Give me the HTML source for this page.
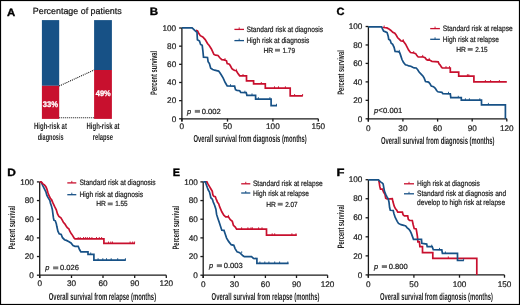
<!DOCTYPE html>
<html><head><meta charset="utf-8"><style>
html,body{margin:0;padding:0;background:#fff;}
svg{display:block;font-family:"Liberation Sans", sans-serif;will-change:transform;text-rendering:geometricPrecision;} text{stroke:#222;stroke-width:0.22px;paint-order:stroke;} text[fill="#fff"]{stroke:#fff;} text[font-weight="bold"]{stroke:none;} text[fill="#fff"][font-weight="bold"]{stroke:#fff;stroke-width:0.3px;}
</style></head><body>
<svg width="520" height="305" viewBox="0 0 520 305">
<rect x="0" y="0" width="520" height="305" fill="#fff"/>
<text x="7.1" y="15.5" font-size="10.6" font-weight="bold" fill="#000" stroke="#000" stroke-width="0.35" textLength="8.22" lengthAdjust="spacingAndGlyphs" style="stroke:#000;stroke-width:0.35px">A</text>
<text x="32.8" y="13.8" font-size="9.0" text-anchor="start" font-weight="normal" font-style="normal" fill="#111" textLength="88.9" lengthAdjust="spacingAndGlyphs">Percentage of patients</text>
<rect x="41.9" y="20.1" width="17.3" height="65.7" fill="#175186"/>
<rect x="41.9" y="85.8" width="17.3" height="33.1" fill="#c8102e"/>
<rect x="94.1" y="20.1" width="17.8" height="49.9" fill="#175186"/>
<rect x="94.1" y="70.0" width="17.8" height="48.9" fill="#c8102e"/>
<line x1="59.2" y1="86.0" x2="94.2" y2="70.0" stroke="#111" stroke-width="1.1" stroke-dasharray="1,1"/>
<line x1="59.2" y1="117.7" x2="94.2" y2="117.7" stroke="#111" stroke-width="1.1" stroke-dasharray="1,1"/>
<text x="42.8" y="107.0" font-size="8.2" text-anchor="start" font-weight="bold" font-style="normal" fill="#fff" textLength="15.3" lengthAdjust="spacingAndGlyphs">33%</text>
<text x="95.8" y="96.1" font-size="8.0" text-anchor="start" font-weight="bold" font-style="normal" fill="#fff" textLength="14.9" lengthAdjust="spacingAndGlyphs">49%</text>
<text x="34.0" y="128.8" font-size="9.0" text-anchor="start" font-weight="bold" font-style="normal" fill="#222" textLength="32.9" lengthAdjust="spacingAndGlyphs">High-risk at</text>
<text x="37.7" y="139.6" font-size="9.0" text-anchor="start" font-weight="bold" font-style="normal" fill="#222" textLength="25.8" lengthAdjust="spacingAndGlyphs">diagnosis</text>
<text x="86.5" y="128.8" font-size="9.0" text-anchor="start" font-weight="bold" font-style="normal" fill="#222" textLength="33.1" lengthAdjust="spacingAndGlyphs">High-risk at</text>
<text x="92.7" y="139.6" font-size="9.0" text-anchor="start" font-weight="bold" font-style="normal" fill="#222" textLength="20.4" lengthAdjust="spacingAndGlyphs">relapse</text>
<text x="149.7" y="15.2" font-size="10.6" font-weight="bold" fill="#000" stroke="#000" stroke-width="0.35" textLength="8.33" lengthAdjust="spacingAndGlyphs" style="stroke:#000;stroke-width:0.35px">B</text>
<line x1="181.9" y1="28.0" x2="181.9" y2="121.6" stroke="#1a1a1a" stroke-width="1.3"/>
<line x1="179.1" y1="118.8" x2="181.9" y2="118.8" stroke="#1a1a1a" stroke-width="1.3"/>
<text x="176.2" y="121.5" font-size="8.2" text-anchor="end" font-weight="normal" font-style="normal" fill="#222">0</text>
<line x1="179.1" y1="100.64" x2="181.9" y2="100.64" stroke="#1a1a1a" stroke-width="1.3"/>
<text x="176.2" y="103.34" font-size="8.2" text-anchor="end" font-weight="normal" font-style="normal" fill="#222">20</text>
<line x1="179.1" y1="82.47999999999999" x2="181.9" y2="82.47999999999999" stroke="#1a1a1a" stroke-width="1.3"/>
<text x="176.2" y="85.18" font-size="8.2" text-anchor="end" font-weight="normal" font-style="normal" fill="#222">40</text>
<line x1="179.1" y1="64.32" x2="181.9" y2="64.32" stroke="#1a1a1a" stroke-width="1.3"/>
<text x="176.2" y="67.02" font-size="8.2" text-anchor="end" font-weight="normal" font-style="normal" fill="#222">60</text>
<line x1="179.1" y1="46.16" x2="181.9" y2="46.16" stroke="#1a1a1a" stroke-width="1.3"/>
<text x="176.2" y="48.86" font-size="8.2" text-anchor="end" font-weight="normal" font-style="normal" fill="#222">80</text>
<line x1="179.1" y1="28.0" x2="181.9" y2="28.0" stroke="#1a1a1a" stroke-width="1.3"/>
<text x="176.2" y="30.7" font-size="8.2" text-anchor="end" font-weight="normal" font-style="normal" fill="#222">100</text>
<line x1="181.9" y1="118.8" x2="318.3" y2="118.8" stroke="#1a1a1a" stroke-width="1.3"/>
<line x1="181.9" y1="118.8" x2="181.9" y2="121.6" stroke="#1a1a1a" stroke-width="1.3"/>
<text x="181.9" y="129.1" font-size="8.2" text-anchor="middle" font-weight="normal" font-style="normal" fill="#222">0</text>
<line x1="227.5" y1="118.8" x2="227.5" y2="121.6" stroke="#1a1a1a" stroke-width="1.3"/>
<text x="227.5" y="129.1" font-size="8.2" text-anchor="middle" font-weight="normal" font-style="normal" fill="#222">50</text>
<line x1="272.9" y1="118.8" x2="272.9" y2="121.6" stroke="#1a1a1a" stroke-width="1.3"/>
<text x="272.9" y="129.1" font-size="8.2" text-anchor="middle" font-weight="normal" font-style="normal" fill="#222">100</text>
<line x1="318.3" y1="118.8" x2="318.3" y2="121.6" stroke="#1a1a1a" stroke-width="1.3"/>
<text x="318.3" y="129.1" font-size="8.2" text-anchor="middle" font-weight="normal" font-style="normal" fill="#222">150</text>
<text transform="translate(156.8,72.9) rotate(-90)" x="0" y="0" font-size="9.4" font-weight="bold" text-anchor="middle" fill="#222" textLength="44.0" lengthAdjust="spacingAndGlyphs">Percent survival</text>
<text x="193.6" y="141.8" font-size="10.2" text-anchor="start" font-weight="bold" font-style="normal" fill="#222" textLength="113.2" lengthAdjust="spacingAndGlyphs">Overall survival from diagnosis (months)</text>
<text x="187.0" y="113.6" font-size="7.4" font-style="italic" fill="#222">p</text>
<rect x="194.8" y="109.9" width="5.2" height="2.9" fill="#777"/>
<text x="201.7" y="113.6" font-size="7.4" fill="#222" textLength="19.0" lengthAdjust="spacingAndGlyphs">0.002</text>
<line x1="234.4" y1="29.4" x2="244.0" y2="29.4" stroke="#c8102e" stroke-width="1.3"/>
<line x1="239.2" y1="29.4" x2="239.2" y2="27.4" stroke="#c8102e" stroke-width="0.9"/>
<text x="246.6" y="32.0" font-size="7.8" text-anchor="start" font-weight="normal" font-style="normal" fill="#222" textLength="76.4" lengthAdjust="spacingAndGlyphs">Standard risk at diagnosis</text>
<line x1="234.4" y1="40.6" x2="244.0" y2="40.6" stroke="#175186" stroke-width="1.3"/>
<line x1="239.2" y1="40.6" x2="239.2" y2="38.6" stroke="#175186" stroke-width="0.9"/>
<text x="246.6" y="42.9" font-size="7.8" text-anchor="start" font-weight="normal" font-style="normal" fill="#222" textLength="62.7" lengthAdjust="spacingAndGlyphs">High risk at diagnosis</text>
<text x="263.5" y="52.7" font-size="7.3" fill="#222" textLength="9.7" lengthAdjust="spacingAndGlyphs">HR</text>
<rect x="275.0" y="48.8" width="5.0" height="2.8" fill="#777"/>
<text x="282.5" y="52.7" font-size="7.3" fill="#222" textLength="12.5" lengthAdjust="spacingAndGlyphs">1.79</text>
<path d="M195.8,30.2 L197.5,30.9 L198.7,33.2 L200.3,35.7 L202.8,36.9 L205.2,39.6 L207.5,43.5 L209.2,45.5 L211.4,49.0 L213.9,54.4 L215.6,55.2 L218.0,55.5 L219.8,57.8 L221.8,59.7 L224.0,59.9 L226.5,60.8 L227.2,63.6 L229.4,64.2 L230.4,65.8 L231.9,68.6 L233.4,69.7 L234.8,70.5 L236.3,70.7 L237.8,73.2 L239.7,75.8 L246.5,75.9 L246.5,80.8 L253.6,80.8 L253.6,83.9 L265.3,83.9 L265.3,88.2 L290.2,88.2 L290.2,95.9 L302.8,95.9" fill="none" stroke="#c8102e" stroke-width="1.7" stroke-linejoin="miter"/>
<path d="M181.9,27.9 L192.1,27.9 L195.0,30.7 L197.0,32.4 L197.4,39.8 L199.5,41.0 L200.6,44.4 L202.2,45.3 L202.9,51.2 L203.5,57.2 L207.5,57.5 L208.1,61.7 L209.4,63.6 L210.7,68.2 L212.7,69.5 L214.7,70.2 L216.6,70.6 L218.6,71.1 L219.9,72.8 L221.2,74.8 L223.2,78.1 L225.2,82.5 L227.2,86.0 L234.6,86.2 L235.5,89.7 L237.0,90.3 L239.7,90.7 L240.7,92.4 L246.2,92.6 L246.9,95.3 L255.6,95.3 L255.6,99.1 L271.1,99.1 L271.1,105.7 L277.0,105.7" fill="none" stroke="#175186" stroke-width="1.7" stroke-linejoin="miter"/>
<line x1="225" y1="60" x2="225" y2="58.1" stroke="#c8102e" stroke-width="0.9"/>
<line x1="236.3" y1="70.7" x2="236.3" y2="68.8" stroke="#c8102e" stroke-width="0.9"/>
<line x1="243" y1="75.9" x2="243" y2="74.0" stroke="#c8102e" stroke-width="0.9"/>
<line x1="261.3" y1="83.9" x2="261.3" y2="82.0" stroke="#c8102e" stroke-width="0.9"/>
<line x1="274.5" y1="88.2" x2="274.5" y2="86.3" stroke="#c8102e" stroke-width="0.9"/>
<line x1="278.5" y1="88.2" x2="278.5" y2="86.3" stroke="#c8102e" stroke-width="0.9"/>
<line x1="285.4" y1="88.2" x2="285.4" y2="86.3" stroke="#c8102e" stroke-width="0.9"/>
<line x1="294.6" y1="95.9" x2="294.6" y2="94.0" stroke="#c8102e" stroke-width="0.9"/>
<line x1="302.6" y1="95.9" x2="302.6" y2="94.0" stroke="#c8102e" stroke-width="0.9"/>
<line x1="230.5" y1="86.1" x2="230.5" y2="84.19999999999999" stroke="#175186" stroke-width="0.9"/>
<line x1="244.9" y1="92.6" x2="244.9" y2="90.69999999999999" stroke="#175186" stroke-width="0.9"/>
<line x1="252" y1="95.3" x2="252" y2="93.39999999999999" stroke="#175186" stroke-width="0.9"/>
<line x1="258.4" y1="99.1" x2="258.4" y2="97.19999999999999" stroke="#175186" stroke-width="0.9"/>
<line x1="269.9" y1="99.1" x2="269.9" y2="97.19999999999999" stroke="#175186" stroke-width="0.9"/>
<line x1="276.5" y1="105.7" x2="276.5" y2="103.8" stroke="#175186" stroke-width="0.9"/>
<text x="336.6" y="15.4" font-size="10.6" font-weight="bold" fill="#000" stroke="#000" stroke-width="0.35" textLength="8.01" lengthAdjust="spacingAndGlyphs" style="stroke:#000;stroke-width:0.35px">C</text>
<line x1="368.4" y1="26.5" x2="368.4" y2="121.6" stroke="#1a1a1a" stroke-width="1.3"/>
<line x1="365.59999999999997" y1="118.8" x2="368.4" y2="118.8" stroke="#1a1a1a" stroke-width="1.3"/>
<text x="362.4" y="121.5" font-size="8.2" text-anchor="end" font-weight="normal" font-style="normal" fill="#222">0</text>
<line x1="365.59999999999997" y1="100.34" x2="368.4" y2="100.34" stroke="#1a1a1a" stroke-width="1.3"/>
<text x="362.4" y="103.04" font-size="8.2" text-anchor="end" font-weight="normal" font-style="normal" fill="#222">20</text>
<line x1="365.59999999999997" y1="81.88" x2="368.4" y2="81.88" stroke="#1a1a1a" stroke-width="1.3"/>
<text x="362.4" y="84.58" font-size="8.2" text-anchor="end" font-weight="normal" font-style="normal" fill="#222">40</text>
<line x1="365.59999999999997" y1="63.42" x2="368.4" y2="63.42" stroke="#1a1a1a" stroke-width="1.3"/>
<text x="362.4" y="66.12" font-size="8.2" text-anchor="end" font-weight="normal" font-style="normal" fill="#222">60</text>
<line x1="365.59999999999997" y1="44.959999999999994" x2="368.4" y2="44.959999999999994" stroke="#1a1a1a" stroke-width="1.3"/>
<text x="362.4" y="47.66" font-size="8.2" text-anchor="end" font-weight="normal" font-style="normal" fill="#222">80</text>
<line x1="365.59999999999997" y1="26.5" x2="368.4" y2="26.5" stroke="#1a1a1a" stroke-width="1.3"/>
<text x="362.4" y="29.2" font-size="8.2" text-anchor="end" font-weight="normal" font-style="normal" fill="#222">100</text>
<line x1="368.4" y1="118.8" x2="507.0" y2="118.8" stroke="#1a1a1a" stroke-width="1.3"/>
<line x1="368.3" y1="118.8" x2="368.3" y2="121.6" stroke="#1a1a1a" stroke-width="1.3"/>
<text x="368.3" y="130.8" font-size="8.2" text-anchor="middle" font-weight="normal" font-style="normal" fill="#222">0</text>
<line x1="402.9" y1="118.8" x2="402.9" y2="121.6" stroke="#1a1a1a" stroke-width="1.3"/>
<text x="402.9" y="130.8" font-size="8.2" text-anchor="middle" font-weight="normal" font-style="normal" fill="#222">30</text>
<line x1="437.6" y1="118.8" x2="437.6" y2="121.6" stroke="#1a1a1a" stroke-width="1.3"/>
<text x="437.6" y="130.8" font-size="8.2" text-anchor="middle" font-weight="normal" font-style="normal" fill="#222">60</text>
<line x1="472.2" y1="118.8" x2="472.2" y2="121.6" stroke="#1a1a1a" stroke-width="1.3"/>
<text x="472.2" y="130.8" font-size="8.2" text-anchor="middle" font-weight="normal" font-style="normal" fill="#222">90</text>
<line x1="506.8" y1="118.8" x2="506.8" y2="121.6" stroke="#1a1a1a" stroke-width="1.3"/>
<text x="506.8" y="130.8" font-size="8.2" text-anchor="middle" font-weight="normal" font-style="normal" fill="#222">120</text>
<text transform="translate(343.7,72.5) rotate(-90)" x="0" y="0" font-size="9.4" font-weight="bold" text-anchor="middle" fill="#222" textLength="44.6" lengthAdjust="spacingAndGlyphs">Percent survival</text>
<text x="381.0" y="143.5" font-size="10.2" text-anchor="start" font-weight="bold" font-style="normal" fill="#222" textLength="113.5" lengthAdjust="spacingAndGlyphs">Overall survival from diagnosis (months)</text>
<text x="374.0" y="112.6" font-size="7.4" font-style="italic" fill="#222">p</text>
<text x="378.3" y="112.5" font-size="8.6" fill="#222" textLength="4.6" lengthAdjust="spacingAndGlyphs">&lt;</text>
<text x="383.0" y="112.6" font-size="7.4" fill="#222" textLength="19.2" lengthAdjust="spacingAndGlyphs">0.001</text>
<line x1="430.2" y1="28.6" x2="439.9" y2="28.6" stroke="#c8102e" stroke-width="1.3"/>
<line x1="435.04999999999995" y1="28.6" x2="435.04999999999995" y2="26.6" stroke="#c8102e" stroke-width="0.9"/>
<text x="442.8" y="31.1" font-size="7.8" text-anchor="start" font-weight="normal" font-style="normal" fill="#222" textLength="69.9" lengthAdjust="spacingAndGlyphs">Standard risk at relapse</text>
<line x1="430.2" y1="39.3" x2="439.9" y2="39.3" stroke="#175186" stroke-width="1.3"/>
<line x1="435.04999999999995" y1="39.3" x2="435.04999999999995" y2="37.3" stroke="#175186" stroke-width="0.9"/>
<text x="442.8" y="41.8" font-size="7.8" text-anchor="start" font-weight="normal" font-style="normal" fill="#222" textLength="56.0" lengthAdjust="spacingAndGlyphs">High risk at relapse</text>
<text x="456.2" y="51.9" font-size="7.3" fill="#222" textLength="9.7" lengthAdjust="spacingAndGlyphs">HR</text>
<rect x="467.7" y="48.0" width="5.0" height="2.8" fill="#777"/>
<text x="475.2" y="51.9" font-size="7.3" fill="#222" textLength="12.5" lengthAdjust="spacingAndGlyphs">2.15</text>
<path d="M382.6,27.2 L383.6,27.5 L386.9,27.9 L388.9,28.9 L390.9,30.5 L392.8,32.4 L394.8,33.3 L396.3,35.3 L397.7,37.8 L399.2,39.2 L400.7,40.7 L402.2,41.2 L403.2,41.0 L404.1,42.2 L405.6,44.2 L407.1,47.1 L408.6,50.1 L410.5,52.5 L413.7,53.0 L415.7,53.6 L416.9,55.6 L418.2,57.0 L420.6,57.0 L422.7,56.8 L425.1,57.7 L426.4,59.5 L427.6,60.1 L429.2,59.8 L430.9,60.7 L432.0,61.4 L438.2,61.8 L439.0,63.9 L440.2,65.1 L441.5,67.2 L442.3,68.0 L450.3,68.0 L450.3,72.2 L458.7,72.2 L458.7,76.1 L473.9,76.1 L473.9,81.9 L506.8,81.9" fill="none" stroke="#c8102e" stroke-width="1.7" stroke-linejoin="miter"/>
<path d="M368.4,26.8 L381.6,26.8 L382.6,29.1 L383.6,31.1 L385.6,31.9 L387.1,32.6 L388.2,36.2 L388.7,39.2 L390.2,40.3 L391.2,43.3 L392.7,44.3 L394.1,47.4 L395.1,51.4 L397.8,51.6 L399.5,52.2 L400.5,54.9 L401.9,59.3 L403.4,62.3 L405.4,64.7 L407.3,65.2 L408.8,65.9 L410.8,66.2 L412.7,67.2 L414.2,67.9 L416.2,68.0 L417.7,69.7 L419.1,72.1 L421.1,74.1 L423.1,76.3 L424.2,78.1 L425.5,81.6 L428.6,82.1 L430.0,83.8 L431.3,86.1 L433.5,86.7 L435.3,88.3 L436.6,90.5 L437.9,91.8 L441.9,92.3 L442.8,93.6 L450.3,93.8 L450.8,97.7 L461.3,97.7 L461.3,100.2 L481.5,100.2 L481.5,104.8 L505.4,104.8 L505.4,118.8" fill="none" stroke="#175186" stroke-width="1.7" stroke-linejoin="miter"/>
<line x1="384.2" y1="27.4" x2="384.2" y2="25.5" stroke="#c8102e" stroke-width="0.9"/>
<line x1="403.2" y1="41.0" x2="403.2" y2="39.1" stroke="#c8102e" stroke-width="0.9"/>
<line x1="413.7" y1="53.0" x2="413.7" y2="51.1" stroke="#c8102e" stroke-width="0.9"/>
<line x1="422.7" y1="56.8" x2="422.7" y2="54.9" stroke="#c8102e" stroke-width="0.9"/>
<line x1="429.2" y1="59.8" x2="429.2" y2="57.9" stroke="#c8102e" stroke-width="0.9"/>
<line x1="446" y1="68" x2="446" y2="66.1" stroke="#c8102e" stroke-width="0.9"/>
<line x1="449.5" y1="68" x2="449.5" y2="66.1" stroke="#c8102e" stroke-width="0.9"/>
<line x1="467.4" y1="76.1" x2="467.4" y2="74.19999999999999" stroke="#c8102e" stroke-width="0.9"/>
<line x1="468.8" y1="76.1" x2="468.8" y2="74.19999999999999" stroke="#c8102e" stroke-width="0.9"/>
<line x1="485.4" y1="81.9" x2="485.4" y2="80.0" stroke="#c8102e" stroke-width="0.9"/>
<line x1="490.6" y1="81.9" x2="490.6" y2="80.0" stroke="#c8102e" stroke-width="0.9"/>
<line x1="499.4" y1="81.9" x2="499.4" y2="80.0" stroke="#c8102e" stroke-width="0.9"/>
<line x1="399.3" y1="51.8" x2="399.3" y2="49.9" stroke="#175186" stroke-width="0.9"/>
<line x1="448.5" y1="93.7" x2="448.5" y2="91.8" stroke="#175186" stroke-width="0.9"/>
<line x1="458.3" y1="97.7" x2="458.3" y2="95.8" stroke="#175186" stroke-width="0.9"/>
<line x1="465.4" y1="100.2" x2="465.4" y2="98.3" stroke="#175186" stroke-width="0.9"/>
<line x1="469.4" y1="100.2" x2="469.4" y2="98.3" stroke="#175186" stroke-width="0.9"/>
<line x1="479.8" y1="100.2" x2="479.8" y2="98.3" stroke="#175186" stroke-width="0.9"/>
<line x1="488.4" y1="104.8" x2="488.4" y2="102.89999999999999" stroke="#175186" stroke-width="0.9"/>
<text x="7.3" y="175.8" font-size="10.6" font-weight="bold" fill="#000" stroke="#000" stroke-width="0.35" textLength="8.63" lengthAdjust="spacingAndGlyphs" style="stroke:#000;stroke-width:0.35px">D</text>
<line x1="39.7" y1="181.9" x2="39.7" y2="278.0" stroke="#1a1a1a" stroke-width="1.3"/>
<line x1="36.900000000000006" y1="275.2" x2="39.7" y2="275.2" stroke="#1a1a1a" stroke-width="1.3"/>
<text x="33.8" y="277.9" font-size="8.2" text-anchor="end" font-weight="normal" font-style="normal" fill="#222">0</text>
<line x1="36.900000000000006" y1="256.53999999999996" x2="39.7" y2="256.53999999999996" stroke="#1a1a1a" stroke-width="1.3"/>
<text x="33.8" y="259.24" font-size="8.2" text-anchor="end" font-weight="normal" font-style="normal" fill="#222">20</text>
<line x1="36.900000000000006" y1="237.88" x2="39.7" y2="237.88" stroke="#1a1a1a" stroke-width="1.3"/>
<text x="33.8" y="240.58" font-size="8.2" text-anchor="end" font-weight="normal" font-style="normal" fill="#222">40</text>
<line x1="36.900000000000006" y1="219.22" x2="39.7" y2="219.22" stroke="#1a1a1a" stroke-width="1.3"/>
<text x="33.8" y="221.92" font-size="8.2" text-anchor="end" font-weight="normal" font-style="normal" fill="#222">60</text>
<line x1="36.900000000000006" y1="200.56" x2="39.7" y2="200.56" stroke="#1a1a1a" stroke-width="1.3"/>
<text x="33.8" y="203.26" font-size="8.2" text-anchor="end" font-weight="normal" font-style="normal" fill="#222">80</text>
<line x1="36.900000000000006" y1="181.9" x2="39.7" y2="181.9" stroke="#1a1a1a" stroke-width="1.3"/>
<text x="33.8" y="184.6" font-size="8.2" text-anchor="end" font-weight="normal" font-style="normal" fill="#222">100</text>
<line x1="39.7" y1="275.2" x2="166.3" y2="275.2" stroke="#1a1a1a" stroke-width="1.3"/>
<line x1="39.7" y1="275.2" x2="39.7" y2="278.0" stroke="#1a1a1a" stroke-width="1.3"/>
<text x="39.7" y="285.5" font-size="8.2" text-anchor="middle" font-weight="normal" font-style="normal" fill="#222">0</text>
<line x1="71.5" y1="275.2" x2="71.5" y2="278.0" stroke="#1a1a1a" stroke-width="1.3"/>
<text x="71.5" y="285.5" font-size="8.2" text-anchor="middle" font-weight="normal" font-style="normal" fill="#222">30</text>
<line x1="103.0" y1="275.2" x2="103.0" y2="278.0" stroke="#1a1a1a" stroke-width="1.3"/>
<text x="103.0" y="285.5" font-size="8.2" text-anchor="middle" font-weight="normal" font-style="normal" fill="#222">60</text>
<line x1="134.7" y1="275.2" x2="134.7" y2="278.0" stroke="#1a1a1a" stroke-width="1.3"/>
<text x="134.7" y="285.5" font-size="8.2" text-anchor="middle" font-weight="normal" font-style="normal" fill="#222">90</text>
<line x1="166.3" y1="275.2" x2="166.3" y2="278.0" stroke="#1a1a1a" stroke-width="1.3"/>
<text x="166.3" y="285.5" font-size="8.2" text-anchor="middle" font-weight="normal" font-style="normal" fill="#222">120</text>
<text transform="translate(14.9,227.7) rotate(-90)" x="0" y="0" font-size="9.4" font-weight="bold" text-anchor="middle" fill="#222" textLength="43.6" lengthAdjust="spacingAndGlyphs">Percent survival</text>
<text x="48.8" y="300.4" font-size="10.2" text-anchor="start" font-weight="bold" font-style="normal" fill="#222" textLength="107.3" lengthAdjust="spacingAndGlyphs">Overall survival from relapse (months)</text>
<text x="45.3" y="270.1" font-size="7.4" font-style="italic" fill="#222">p</text>
<rect x="53.099999999999994" y="266.4" width="5.2" height="2.9" fill="#777"/>
<text x="60.0" y="270.1" font-size="7.4" fill="#222" textLength="19.0" lengthAdjust="spacingAndGlyphs">0.026</text>
<line x1="67.3" y1="182.9" x2="76.3" y2="182.9" stroke="#c8102e" stroke-width="1.3"/>
<line x1="71.8" y1="182.9" x2="71.8" y2="180.9" stroke="#c8102e" stroke-width="0.9"/>
<text x="79.4" y="185.2" font-size="7.8" text-anchor="start" font-weight="normal" font-style="normal" fill="#222" textLength="76.2" lengthAdjust="spacingAndGlyphs">Standard risk at diagnosis</text>
<line x1="67.3" y1="194.7" x2="76.3" y2="194.7" stroke="#175186" stroke-width="1.3"/>
<line x1="71.8" y1="194.7" x2="71.8" y2="192.7" stroke="#175186" stroke-width="0.9"/>
<text x="79.4" y="197.2" font-size="7.8" text-anchor="start" font-weight="normal" font-style="normal" fill="#222" textLength="63.7" lengthAdjust="spacingAndGlyphs">High risk at diagnosis</text>
<text x="96.2" y="206.4" font-size="7.3" fill="#222" textLength="9.7" lengthAdjust="spacingAndGlyphs">HR</text>
<rect x="107.7" y="202.5" width="5.0" height="2.8" fill="#777"/>
<text x="115.2" y="206.4" font-size="7.3" fill="#222" textLength="12.5" lengthAdjust="spacingAndGlyphs">1.55</text>
<path d="M40.6,182.0 L41.2,182.2 L42.9,185.9 L44.4,188.8 L45.9,191.8 L46.8,195.2 L47.8,197.2 L49.3,199.6 L49.9,200.6 L50.4,203.0 L51.4,205.9 L52.4,209.8 L52.9,213.8 L53.4,217.7 L53.9,220.2 L55.3,220.8 L56.3,223.6 L56.9,226.8 L57.9,231.2 L59.2,233.8 L61.2,234.5 L62.5,237.7 L64.5,239.7 L66.4,240.4 L69.0,241.7 L71.0,243.0 L73.0,245.6 L75.0,246.3 L78.2,246.3 L79.5,249.5 L80.9,251.9 L88.0,251.9 L88.0,254.4 L93.9,254.4 L93.9,260.1 L125.8,260.1" fill="none" stroke="#175186" stroke-width="1.7" stroke-linejoin="miter"/>
<path d="M39.7,181.9 L40.5,181.9 L41.4,182.1 L42.9,183.9 L44.4,184.9 L45.9,186.8 L46.8,188.8 L47.8,192.3 L48.8,195.2 L50.3,198.2 L51.6,199.8 L52.9,202.9 L54.8,206.9 L56.3,209.8 L57.5,213.9 L58.9,216.4 L60.9,217.9 L62.4,220.3 L63.4,222.3 L64.8,223.8 L66.3,226.2 L67.3,227.7 L68.8,228.7 L69.8,231.2 L71.2,233.6 L72.7,235.6 L74.2,238.2 L75.0,238.9 L103.9,238.9 L103.9,243.4 L135.0,243.4" fill="none" stroke="#c8102e" stroke-width="1.7" stroke-linejoin="miter"/>
<line x1="78.2" y1="238.9" x2="78.2" y2="237.0" stroke="#c8102e" stroke-width="0.9"/>
<line x1="80.2" y1="238.9" x2="80.2" y2="237.0" stroke="#c8102e" stroke-width="0.9"/>
<line x1="83.5" y1="238.9" x2="83.5" y2="237.0" stroke="#c8102e" stroke-width="0.9"/>
<line x1="85.4" y1="238.9" x2="85.4" y2="237.0" stroke="#c8102e" stroke-width="0.9"/>
<line x1="87.3" y1="238.9" x2="87.3" y2="237.0" stroke="#c8102e" stroke-width="0.9"/>
<line x1="89.6" y1="238.9" x2="89.6" y2="237.0" stroke="#c8102e" stroke-width="0.9"/>
<line x1="91.9" y1="238.9" x2="91.9" y2="237.0" stroke="#c8102e" stroke-width="0.9"/>
<line x1="96.5" y1="238.9" x2="96.5" y2="237.0" stroke="#c8102e" stroke-width="0.9"/>
<line x1="99.3" y1="238.9" x2="99.3" y2="237.0" stroke="#c8102e" stroke-width="0.9"/>
<line x1="101.6" y1="238.9" x2="101.6" y2="237.0" stroke="#c8102e" stroke-width="0.9"/>
<line x1="108.5" y1="243.4" x2="108.5" y2="241.5" stroke="#c8102e" stroke-width="0.9"/>
<line x1="110.8" y1="243.4" x2="110.8" y2="241.5" stroke="#c8102e" stroke-width="0.9"/>
<line x1="112.5" y1="243.4" x2="112.5" y2="241.5" stroke="#c8102e" stroke-width="0.9"/>
<line x1="130.1" y1="243.4" x2="130.1" y2="241.5" stroke="#c8102e" stroke-width="0.9"/>
<line x1="132.7" y1="243.4" x2="132.7" y2="241.5" stroke="#c8102e" stroke-width="0.9"/>
<line x1="134.6" y1="243.4" x2="134.6" y2="241.5" stroke="#c8102e" stroke-width="0.9"/>
<line x1="90.7" y1="254.4" x2="90.7" y2="252.5" stroke="#175186" stroke-width="0.9"/>
<line x1="98.1" y1="260.1" x2="98.1" y2="258.20000000000005" stroke="#175186" stroke-width="0.9"/>
<line x1="102.8" y1="260.1" x2="102.8" y2="258.20000000000005" stroke="#175186" stroke-width="0.9"/>
<line x1="106.5" y1="260.1" x2="106.5" y2="258.20000000000005" stroke="#175186" stroke-width="0.9"/>
<line x1="111.2" y1="260.1" x2="111.2" y2="258.20000000000005" stroke="#175186" stroke-width="0.9"/>
<line x1="117.7" y1="260.1" x2="117.7" y2="258.20000000000005" stroke="#175186" stroke-width="0.9"/>
<line x1="125.4" y1="260.1" x2="125.4" y2="258.20000000000005" stroke="#175186" stroke-width="0.9"/>
<text x="172.75" y="175.8" font-size="10.6" font-weight="bold" fill="#000" stroke="#000" stroke-width="0.35" textLength="7.3" lengthAdjust="spacingAndGlyphs" style="stroke:#000;stroke-width:0.35px">E</text>
<line x1="203.2" y1="181.9" x2="203.2" y2="278.0" stroke="#1a1a1a" stroke-width="1.3"/>
<line x1="200.39999999999998" y1="275.2" x2="203.2" y2="275.2" stroke="#1a1a1a" stroke-width="1.3"/>
<text x="197.8" y="277.9" font-size="8.2" text-anchor="end" font-weight="normal" font-style="normal" fill="#222">0</text>
<line x1="200.39999999999998" y1="256.53999999999996" x2="203.2" y2="256.53999999999996" stroke="#1a1a1a" stroke-width="1.3"/>
<text x="197.8" y="259.24" font-size="8.2" text-anchor="end" font-weight="normal" font-style="normal" fill="#222">20</text>
<line x1="200.39999999999998" y1="237.88" x2="203.2" y2="237.88" stroke="#1a1a1a" stroke-width="1.3"/>
<text x="197.8" y="240.58" font-size="8.2" text-anchor="end" font-weight="normal" font-style="normal" fill="#222">40</text>
<line x1="200.39999999999998" y1="219.22" x2="203.2" y2="219.22" stroke="#1a1a1a" stroke-width="1.3"/>
<text x="197.8" y="221.92" font-size="8.2" text-anchor="end" font-weight="normal" font-style="normal" fill="#222">60</text>
<line x1="200.39999999999998" y1="200.56" x2="203.2" y2="200.56" stroke="#1a1a1a" stroke-width="1.3"/>
<text x="197.8" y="203.26" font-size="8.2" text-anchor="end" font-weight="normal" font-style="normal" fill="#222">80</text>
<line x1="200.39999999999998" y1="181.9" x2="203.2" y2="181.9" stroke="#1a1a1a" stroke-width="1.3"/>
<text x="197.8" y="184.6" font-size="8.2" text-anchor="end" font-weight="normal" font-style="normal" fill="#222">100</text>
<line x1="203.2" y1="275.2" x2="327.7" y2="275.2" stroke="#1a1a1a" stroke-width="1.3"/>
<line x1="203.2" y1="275.2" x2="203.2" y2="278.0" stroke="#1a1a1a" stroke-width="1.3"/>
<text x="203.2" y="286.6" font-size="8.2" text-anchor="middle" font-weight="normal" font-style="normal" fill="#222">0</text>
<line x1="234.4" y1="275.2" x2="234.4" y2="278.0" stroke="#1a1a1a" stroke-width="1.3"/>
<text x="234.4" y="286.6" font-size="8.2" text-anchor="middle" font-weight="normal" font-style="normal" fill="#222">30</text>
<line x1="265.4" y1="275.2" x2="265.4" y2="278.0" stroke="#1a1a1a" stroke-width="1.3"/>
<text x="265.4" y="286.6" font-size="8.2" text-anchor="middle" font-weight="normal" font-style="normal" fill="#222">60</text>
<line x1="296.5" y1="275.2" x2="296.5" y2="278.0" stroke="#1a1a1a" stroke-width="1.3"/>
<text x="296.5" y="286.6" font-size="8.2" text-anchor="middle" font-weight="normal" font-style="normal" fill="#222">90</text>
<line x1="327.6" y1="275.2" x2="327.6" y2="278.0" stroke="#1a1a1a" stroke-width="1.3"/>
<text x="327.6" y="286.6" font-size="8.2" text-anchor="middle" font-weight="normal" font-style="normal" fill="#222">120</text>
<text transform="translate(178.9,227.7) rotate(-90)" x="0" y="0" font-size="9.4" font-weight="bold" text-anchor="middle" fill="#222" textLength="43.6" lengthAdjust="spacingAndGlyphs">Percent survival</text>
<text x="211.6" y="300.3" font-size="10.2" text-anchor="start" font-weight="bold" font-style="normal" fill="#222" textLength="107.8" lengthAdjust="spacingAndGlyphs">Overall survival from relapse (months)</text>
<text x="209.0" y="267.9" font-size="7.4" font-style="italic" fill="#222">p</text>
<rect x="216.8" y="264.2" width="5.2" height="2.9" fill="#777"/>
<text x="223.7" y="267.9" font-size="7.4" fill="#222" textLength="19.0" lengthAdjust="spacingAndGlyphs">0.003</text>
<line x1="241.2" y1="183.8" x2="250.3" y2="183.8" stroke="#c8102e" stroke-width="1.3"/>
<line x1="245.75" y1="183.8" x2="245.75" y2="181.8" stroke="#c8102e" stroke-width="0.9"/>
<text x="252.9" y="186.3" font-size="7.8" text-anchor="start" font-weight="normal" font-style="normal" fill="#222" textLength="69.8" lengthAdjust="spacingAndGlyphs">Standard risk at relapse</text>
<line x1="241.2" y1="193.0" x2="250.3" y2="193.0" stroke="#175186" stroke-width="1.3"/>
<line x1="245.75" y1="193.0" x2="245.75" y2="191.0" stroke="#175186" stroke-width="0.9"/>
<text x="252.9" y="195.5" font-size="7.8" text-anchor="start" font-weight="normal" font-style="normal" fill="#222" textLength="55.9" lengthAdjust="spacingAndGlyphs">High risk at relapse</text>
<text x="266.2" y="206.7" font-size="7.3" fill="#222" textLength="9.7" lengthAdjust="spacingAndGlyphs">HR</text>
<rect x="277.7" y="202.8" width="5.0" height="2.8" fill="#777"/>
<text x="285.2" y="206.7" font-size="7.3" fill="#222" textLength="12.5" lengthAdjust="spacingAndGlyphs">2.07</text>
<path d="M205.0,181.9 L206.9,181.9 L207.9,183.9 L209.4,186.4 L210.8,188.8 L212.3,191.3 L212.8,194.7 L213.8,196.2 L215.3,196.7 L216.2,199.1 L217.5,202.2 L218.7,203.8 L219.8,207.2 L221.8,211.8 L223.8,215.1 L225.7,216.8 L228.4,216.8 L230.3,219.7 L232.3,221.2 L233.4,225.3 L235.3,227.0 L236.6,229.2 L266.5,229.2 L266.5,235.2 L296.8,235.2" fill="none" stroke="#c8102e" stroke-width="1.7" stroke-linejoin="miter"/>
<path d="M203.2,181.9 L205.4,181.9 L206.4,184.9 L207.4,187.8 L208.4,190.3 L209.4,191.8 L210.3,195.2 L210.8,197.7 L212.3,199.1 L213.3,202.1 L214.6,205.2 L215.9,209.2 L216.6,214.4 L217.9,218.4 L219.2,222.3 L220.5,226.2 L221.8,230.2 L224.0,230.4 L225.3,234.2 L226.6,238.1 L228.6,241.4 L231.2,244.7 L233.8,245.3 L235.1,248.6 L237.1,251.9 L239.7,252.7 L243.0,255.8 L244.3,256.7 L251.5,256.7 L253.5,258.4 L256.9,258.6 L256.9,263.4 L288.6,263.4" fill="none" stroke="#175186" stroke-width="1.7" stroke-linejoin="miter"/>
<line x1="228.4" y1="216.8" x2="228.4" y2="214.9" stroke="#c8102e" stroke-width="0.9"/>
<line x1="241.6" y1="229.2" x2="241.6" y2="227.29999999999998" stroke="#c8102e" stroke-width="0.9"/>
<line x1="247.9" y1="229.2" x2="247.9" y2="227.29999999999998" stroke="#c8102e" stroke-width="0.9"/>
<line x1="251" y1="229.2" x2="251" y2="227.29999999999998" stroke="#c8102e" stroke-width="0.9"/>
<line x1="252.4" y1="229.2" x2="252.4" y2="227.29999999999998" stroke="#c8102e" stroke-width="0.9"/>
<line x1="258.6" y1="229.2" x2="258.6" y2="227.29999999999998" stroke="#c8102e" stroke-width="0.9"/>
<line x1="262" y1="229.2" x2="262" y2="227.29999999999998" stroke="#c8102e" stroke-width="0.9"/>
<line x1="272.2" y1="235.2" x2="272.2" y2="233.29999999999998" stroke="#c8102e" stroke-width="0.9"/>
<line x1="274.7" y1="235.2" x2="274.7" y2="233.29999999999998" stroke="#c8102e" stroke-width="0.9"/>
<line x1="291.9" y1="235.2" x2="291.9" y2="233.29999999999998" stroke="#c8102e" stroke-width="0.9"/>
<line x1="296" y1="235.2" x2="296" y2="233.29999999999998" stroke="#c8102e" stroke-width="0.9"/>
<line x1="241.7" y1="253.2" x2="241.7" y2="251.29999999999998" stroke="#175186" stroke-width="0.9"/>
<line x1="259.9" y1="263.4" x2="259.9" y2="261.5" stroke="#175186" stroke-width="0.9"/>
<line x1="264.8" y1="263.4" x2="264.8" y2="261.5" stroke="#175186" stroke-width="0.9"/>
<line x1="268.9" y1="263.4" x2="268.9" y2="261.5" stroke="#175186" stroke-width="0.9"/>
<line x1="274.7" y1="263.4" x2="274.7" y2="261.5" stroke="#175186" stroke-width="0.9"/>
<line x1="279.6" y1="263.4" x2="279.6" y2="261.5" stroke="#175186" stroke-width="0.9"/>
<line x1="287.8" y1="263.4" x2="287.8" y2="261.5" stroke="#175186" stroke-width="0.9"/>
<text x="336.5" y="175.8" font-size="10.6" font-weight="bold" fill="#000" stroke="#000" stroke-width="0.35" textLength="7.98" lengthAdjust="spacingAndGlyphs" style="stroke:#000;stroke-width:0.35px">F</text>
<line x1="368.4" y1="179.7" x2="368.4" y2="277.7" stroke="#1a1a1a" stroke-width="1.3"/>
<line x1="365.59999999999997" y1="274.9" x2="368.4" y2="274.9" stroke="#1a1a1a" stroke-width="1.3"/>
<text x="362.4" y="277.6" font-size="8.2" text-anchor="end" font-weight="normal" font-style="normal" fill="#222">0</text>
<line x1="365.59999999999997" y1="255.85999999999999" x2="368.4" y2="255.85999999999999" stroke="#1a1a1a" stroke-width="1.3"/>
<text x="362.4" y="258.56" font-size="8.2" text-anchor="end" font-weight="normal" font-style="normal" fill="#222">20</text>
<line x1="365.59999999999997" y1="236.82" x2="368.4" y2="236.82" stroke="#1a1a1a" stroke-width="1.3"/>
<text x="362.4" y="239.52" font-size="8.2" text-anchor="end" font-weight="normal" font-style="normal" fill="#222">40</text>
<line x1="365.59999999999997" y1="217.77999999999997" x2="368.4" y2="217.77999999999997" stroke="#1a1a1a" stroke-width="1.3"/>
<text x="362.4" y="220.48" font-size="8.2" text-anchor="end" font-weight="normal" font-style="normal" fill="#222">60</text>
<line x1="365.59999999999997" y1="198.73999999999998" x2="368.4" y2="198.73999999999998" stroke="#1a1a1a" stroke-width="1.3"/>
<text x="362.4" y="201.44" font-size="8.2" text-anchor="end" font-weight="normal" font-style="normal" fill="#222">80</text>
<line x1="365.59999999999997" y1="179.7" x2="368.4" y2="179.7" stroke="#1a1a1a" stroke-width="1.3"/>
<text x="362.4" y="182.4" font-size="8.2" text-anchor="end" font-weight="normal" font-style="normal" fill="#222">100</text>
<line x1="368.4" y1="274.9" x2="504.5" y2="274.9" stroke="#1a1a1a" stroke-width="1.3"/>
<line x1="368.3" y1="274.9" x2="368.3" y2="277.7" stroke="#1a1a1a" stroke-width="1.3"/>
<text x="368.3" y="286.8" font-size="8.2" text-anchor="middle" font-weight="normal" font-style="normal" fill="#222">0</text>
<line x1="413.9" y1="274.9" x2="413.9" y2="277.7" stroke="#1a1a1a" stroke-width="1.3"/>
<text x="413.9" y="286.8" font-size="8.2" text-anchor="middle" font-weight="normal" font-style="normal" fill="#222">50</text>
<line x1="459.5" y1="274.9" x2="459.5" y2="277.7" stroke="#1a1a1a" stroke-width="1.3"/>
<text x="459.5" y="286.8" font-size="8.2" text-anchor="middle" font-weight="normal" font-style="normal" fill="#222">100</text>
<line x1="504.5" y1="274.9" x2="504.5" y2="277.7" stroke="#1a1a1a" stroke-width="1.3"/>
<text x="504.5" y="286.8" font-size="8.2" text-anchor="middle" font-weight="normal" font-style="normal" fill="#222">150</text>
<text transform="translate(343.6,226.6) rotate(-90)" x="0" y="0" font-size="9.4" font-weight="bold" text-anchor="middle" fill="#222" textLength="43.4" lengthAdjust="spacingAndGlyphs">Percent survival</text>
<text x="380.0" y="300.3" font-size="10.2" text-anchor="start" font-weight="bold" font-style="normal" fill="#222" textLength="112.9" lengthAdjust="spacingAndGlyphs">Overall survival from diagnosis (months)</text>
<text x="374.0" y="268.8" font-size="7.4" font-style="italic" fill="#222">p</text>
<rect x="381.8" y="265.1" width="5.2" height="2.9" fill="#777"/>
<text x="388.7" y="268.8" font-size="7.4" fill="#222" textLength="19.0" lengthAdjust="spacingAndGlyphs">0.800</text>
<line x1="404.0" y1="183.8" x2="414.0" y2="183.8" stroke="#c8102e" stroke-width="1.3"/>
<line x1="409.0" y1="183.8" x2="409.0" y2="181.8" stroke="#c8102e" stroke-width="0.9"/>
<text x="417.0" y="186.3" font-size="7.8" text-anchor="start" font-weight="normal" font-style="normal" fill="#222" textLength="62.9" lengthAdjust="spacingAndGlyphs">High risk at diagnosis</text>
<line x1="404.0" y1="193.8" x2="414.0" y2="193.8" stroke="#175186" stroke-width="1.3"/>
<line x1="409.0" y1="193.8" x2="409.0" y2="191.8" stroke="#175186" stroke-width="0.9"/>
<text x="417.0" y="196.4" font-size="7.8" text-anchor="start" font-weight="normal" font-style="normal" fill="#222" textLength="89.2" lengthAdjust="spacingAndGlyphs">Standard risk at diagnosis and</text>
<text x="417.0" y="204.8" font-size="7.8" text-anchor="start" font-weight="normal" font-style="normal" fill="#222" textLength="88.1" lengthAdjust="spacingAndGlyphs">develop to high risk at relapse</text>
<path d="M378.7,180.5 L379.1,181.9 L379.8,186.5 L380.5,189.1 L382.4,189.1 L383.7,192.4 L385.0,194.4 L385.7,198.3 L387.0,199.0 L392.3,198.6 L392.9,201.6 L394.2,206.2 L395.5,208.8 L396.8,210.3 L397.8,212.2 L402.4,212.2 L403.1,214.8 L404.4,215.8 L407.7,215.8 L408.3,219.4 L409.6,220.5 L412.3,220.5 L413.2,224.7 L414.2,228.6 L416.2,228.9 L416.9,233.2 L417.4,236.4 L417.9,241.8 L419.4,241.8 L419.9,246.7 L422.5,246.7 L422.5,252.6 L432.8,252.6 L432.8,258.3 L476.8,258.3 L476.8,274.9" fill="none" stroke="#c8102e" stroke-width="1.7" stroke-linejoin="miter"/>
<path d="M368.4,179.9 L378.5,179.9 L380.5,181.9 L381.8,182.6 L383.1,183.9 L383.7,187.1 L384.4,191.1 L385.7,194.4 L387.0,197.0 L388.3,199.0 L389.0,202.2 L389.6,207.5 L390.3,210.3 L393.2,210.5 L393.9,213.5 L395.2,217.5 L397.2,221.4 L398.5,223.4 L401.1,224.7 L403.7,225.3 L405.7,226.0 L407.0,227.6 L409.0,229.3 L410.3,231.2 L411.6,234.1 L413.5,239.4 L421.5,239.4 L421.8,243.3 L426.7,244.1 L427.2,246.6 L432.2,246.6 L433.3,249.7 L441.8,249.9 L442.4,253.4 L457.5,253.4 L457.5,260.5 L463.9,260.5" fill="none" stroke="#175186" stroke-width="1.7" stroke-linejoin="miter"/>
<line x1="448.3" y1="258.3" x2="448.3" y2="256.40000000000003" stroke="#c8102e" stroke-width="0.9"/>
<line x1="431.7" y1="246.6" x2="431.7" y2="244.7" stroke="#175186" stroke-width="0.9"/>
<line x1="439.5" y1="249.8" x2="439.5" y2="247.9" stroke="#175186" stroke-width="0.9"/>
<line x1="445.4" y1="253.4" x2="445.4" y2="251.5" stroke="#175186" stroke-width="0.9"/>
<line x1="463.6" y1="260.5" x2="463.6" y2="258.6" stroke="#175186" stroke-width="0.9"/>
<rect x="0.5" y="0.5" width="519" height="304" fill="none" stroke="#000" stroke-width="1.2"/>
</svg>
</body></html>
